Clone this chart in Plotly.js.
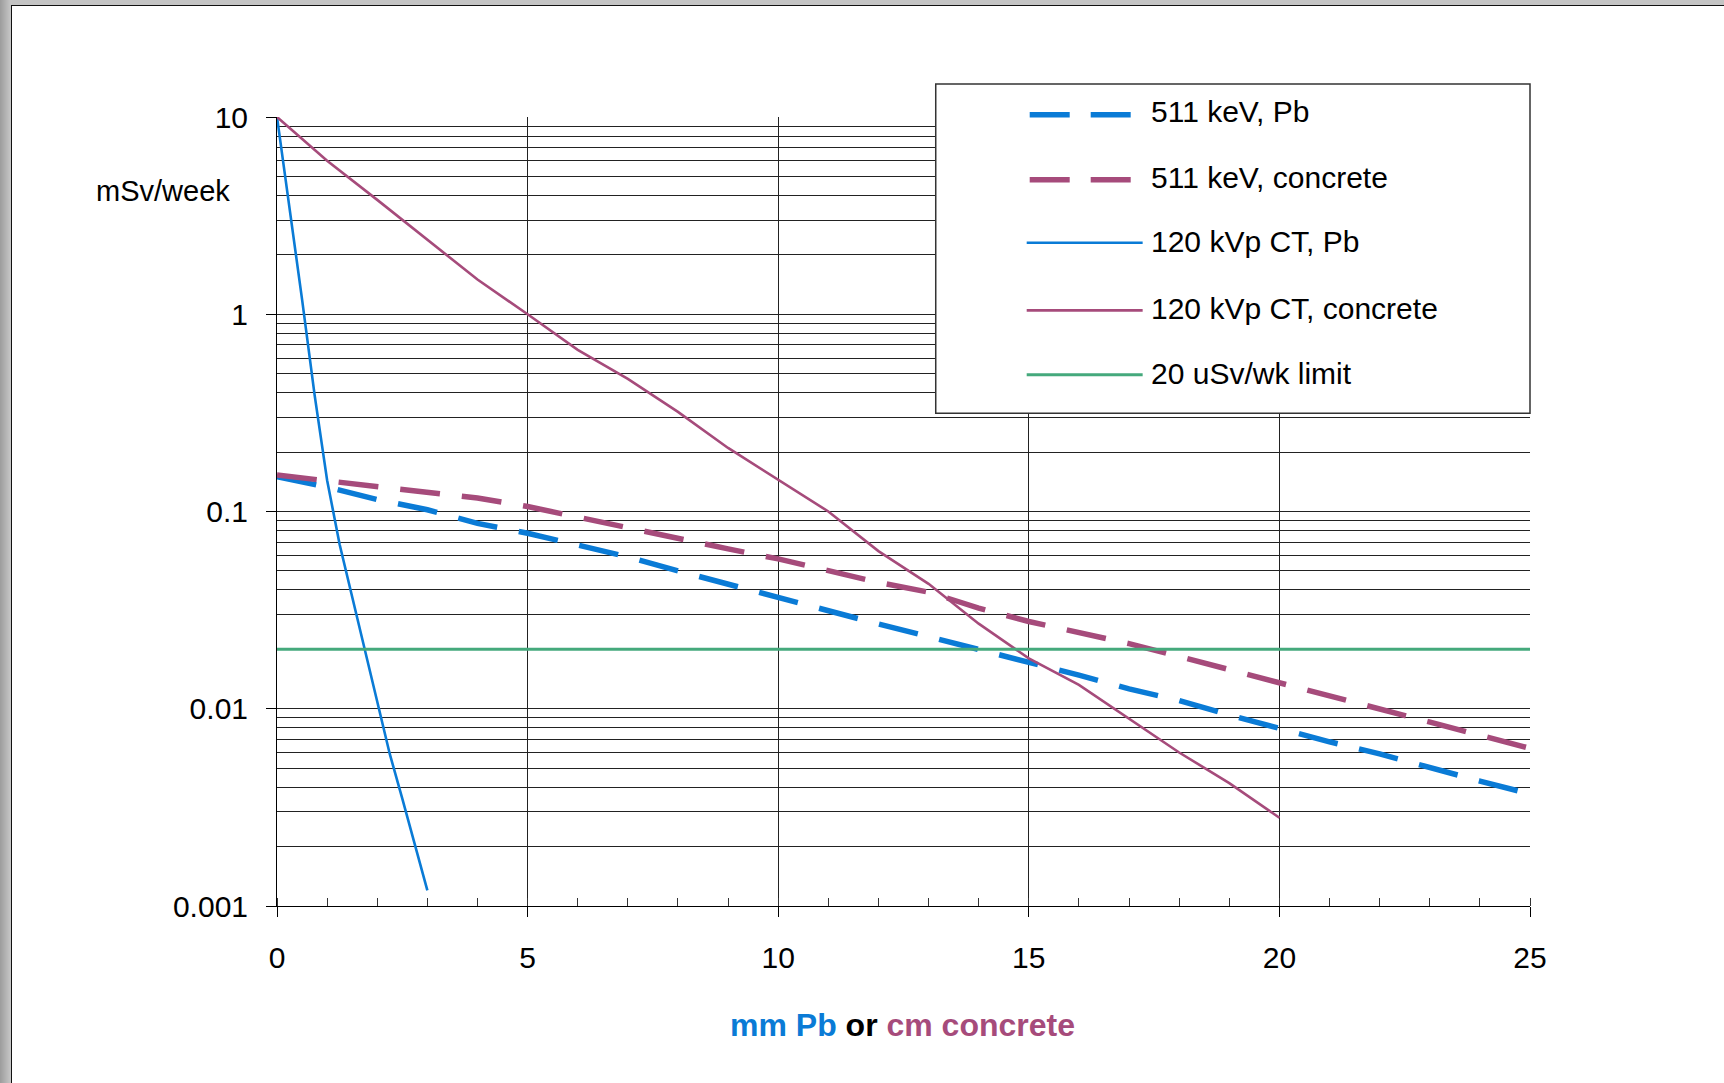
<!DOCTYPE html>
<html>
<head>
<meta charset="utf-8">
<script src="https://cdn.plot.ly/plotly-3.0.1.min.js"></script>
<style>
  html, body { margin: 0; padding: 0; width: 1724px; height: 1083px; overflow: hidden;
    background: linear-gradient(to right, #9c9c9c 0px, #c4c4c4 10px, #c4c4c4 100%); }
  #frame { position: absolute; left: 11px; top: 5px; width: 1730px; height: 1090px;
    background: #ffffff; border-left: 1px solid #111; border-top: 1px solid #111; }
  #chart { position: absolute; left: 0; top: 0; width: 1724px; height: 1083px; }
</style>
</head>
<body>
<div id="frame"></div>
<div id="chart"></div>
<script>
// ---- data ----
const thickness511 = [0,1,2,3,4,5,6,7,8,9,10,11,12,13,14,15,16,17,18,19,20,21,22,23,24,25];
const dose511Pb = [0.150,0.133,0.115,0.102,0.087,0.0776,0.0676,0.0589,0.050,0.0427,0.0367,0.0316,0.0269,0.0232,0.0200,0.0173,0.0148,0.0126,0.0110,0.0093,0.0079,0.0068,0.0059,0.0050,0.0043,0.0037];
const dose511Concrete = [0.153,0.1425,0.134,0.125,0.117,0.106,0.0933,0.083,0.0733,0.0646,0.0575,0.050,0.0437,0.039,0.0324,0.0277,0.0245,0.0214,0.0184,0.0158,0.01355,0.0117,0.0101,0.0086,0.0074,0.0063];
const thicknessCTPb = [0,0.25,0.5,0.75,1,1.25,1.5,1.75,2,2.25,2.5,2.75,3];
const doseCTPb = [10,3.5,1.19,0.39,0.144,0.068,0.037,0.0204,0.0107,0.0059,0.0035,0.00205,0.0012];
const thicknessCTConcrete = [0,1,2,3,4,5,6,7,8,9,10,11,12,13,14,15,16,17,18,19,20];
const doseCTConcrete = [10,6.0,3.8,2.4,1.5,1.0,0.66,0.47,0.32,0.21,0.145,0.10,0.063,0.043,0.027,0.018,0.0132,0.0089,0.006,0.0042,0.0028];
const limitX = [0,25];
const limitY = [0.02,0.02];

const seriesNames = ["511 keV, Pb","511 keV, concrete","120 kVp CT, Pb","120 kVp CT, concrete","20 uSv/wk limit"];
const yTickVals = [0.001,0.01,0.1,1,10];
const yTickText = ["0.001","0.01","0.1","1","10"];
const xTickVals = [0,5,10,15,20,25];
const xTickText = ["0","5","10","15","20","25"];

// ---- styles ----
const BLUE = "#0a7bd6", MAG = "#a64b7b", GREEN = "#45a97c";
const FONT = "Liberation Sans, Arial, sans-serif";
const DASH = "40px,22px";
const styles = [
  {color: BLUE, width: 5.5, dash: DASH},
  {color: MAG, width: 5.5, dash: DASH},
  {color: BLUE, width: 2.6, dash: "solid"},
  {color: MAG, width: 2.6, dash: "solid"},
  {color: GREEN, width: 3, dash: "solid"}
];
const xs = [thickness511, thickness511, thicknessCTPb, thicknessCTConcrete, limitX];
const ys = [dose511Pb, dose511Concrete, doseCTPb, doseCTConcrete, limitY];

const traces = seriesNames.map((n, i) => ({
  type: "scatter", mode: "lines", name: n, x: xs[i], y: ys[i],
  line: {color: styles[i].color, width: styles[i].width, dash: styles[i].dash},
  showlegend: false, hoverinfo: "skip"
}));

// ---- layout geometry (pixels) ----
const L = 277, T = 116.5, W = 1253.5, H = 789.5;
const px = v => (v - L) / W;
const py = v => (T + H - v) / H;

const minorY = [];
[0.001,0.01,0.1,1].forEach(d => { for (let k = 2; k <= 9; k++) minorY.push(d * k); });

// custom legend
const legendRows = [114.3, 179.3, 242.3, 310, 374.3];
const legendText = [111.3, 176.7, 240.8, 308.3, 373.3];
const shapes = [{
  type: "rect", xref: "paper", yref: "paper", layer: "above",
  x0: px(936), x1: px(1530.5), y0: py(413), y1: py(83.5),
  fillcolor: "#ffffff", line: {color: "#333", width: 1.5}
}];
const annotations = [];
seriesNames.forEach((n, i) => {
  const dashed = styles[i].dash !== "solid";
  shapes.push({
    type: "line", xref: "paper", yref: "paper", layer: "above",
    x0: px(dashed ? 1030 : 1027), x1: px(dashed ? 1132 : 1143),
    y0: py(legendRows[i]), y1: py(legendRows[i]),
    line: {color: styles[i].color, width: styles[i].width, dash: dashed ? "40px,21px" : "solid"}
  });
  annotations.push({
    xref: "paper", yref: "paper", x: px(1149), y: py(legendText[i]),
    xanchor: "left", yanchor: "middle", showarrow: false, text: n,
    font: {family: FONT, size: 30, color: "#000"}
  });
});
annotations.push({
  xref: "paper", yref: "paper", x: px(232), y: py(191), xanchor: "right", yanchor: "middle",
  showarrow: false, text: "mSv/week", font: {family: FONT, size: 29, color: "#000"}
});
annotations.push({
  xref: "paper", yref: "paper", x: px(903), y: py(1025), xanchor: "center", yanchor: "middle",
  showarrow: false,
  text: "<b><span style='color:" + BLUE + "'>mm Pb</span> or <span style='color:" + MAG + "'>cm concrete</span></b>",
  font: {family: FONT, size: 32, color: "#000"}
});

const layout = {
  width: 1724, height: 1083,
  margin: {l: L, r: 1724 - L - W, t: T, b: 1083 - T - H, pad: 0},
  paper_bgcolor: "rgba(0,0,0,0)", plot_bgcolor: "#ffffff",
  font: {family: FONT, color: "#000"},
  showlegend: false,
  xaxis: {
    range: [0, 25], tickmode: "array", tickvals: xTickVals, ticktext: xTickText,
    ticks: "outside", ticklen: 10, tickcolor: "#000", tickwidth: 1,
    showline: true, linecolor: "#000", linewidth: 1, zeroline: false,
    showgrid: true, gridcolor: "#222", gridwidth: 1,
    tickfont: {family: FONT, size: 30, color: "#000"}, ticklabelstandoff: 15,
    minor: {dtick: 1, tick0: 0, ticks: "inside", ticklen: 8, tickcolor: "#333", showgrid: false}
  },
  yaxis: {
    type: "log", range: [-3, 1], tickmode: "array", tickvals: yTickVals, ticktext: yTickText,
    ticks: "outside", ticklen: 10, tickcolor: "#000", tickwidth: 1,
    showline: true, linecolor: "#000", linewidth: 1, zeroline: false,
    showgrid: true, gridcolor: "#222", gridwidth: 1,
    tickfont: {family: FONT, size: 30, color: "#000"}, ticklabelstandoff: 12,
    minor: {tickmode: "array", tickvals: minorY, ticks: "", showgrid: true, gridcolor: "#222", gridwidth: 1}
  },
  shapes: shapes,
  annotations: annotations
};

Plotly.newPlot("chart", traces, layout, {staticPlot: true, displayModeBar: false});
</script>
</body>
</html>
